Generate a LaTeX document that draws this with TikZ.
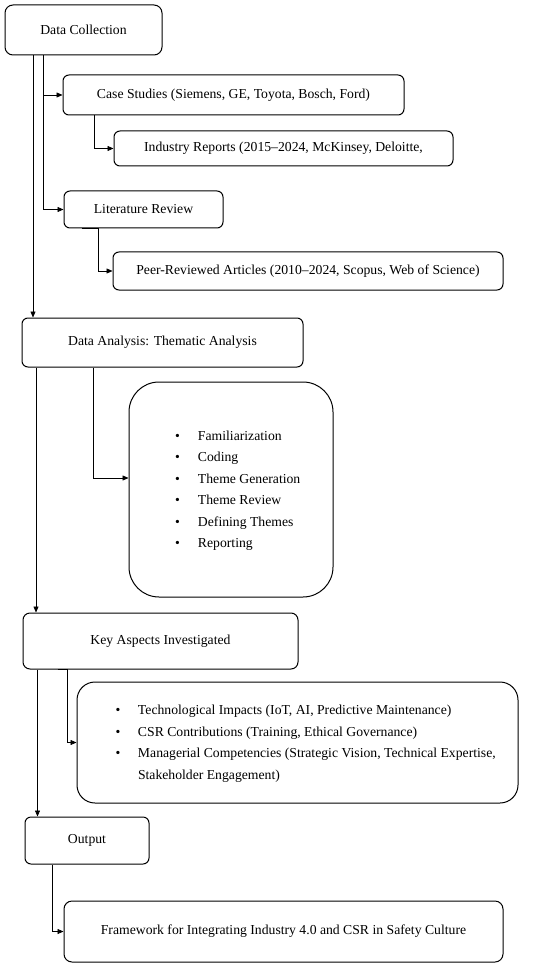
\documentclass[tikz,border=0pt]{standalone}
\usepackage{fontspec}
\setmainfont{Liberation Serif}
\usetikzlibrary{arrows.meta}
\begin{document}
\begin{tikzpicture}[x=1pt,y=-1pt,
  every node/.style={font=\fontsize{13.7}{21.5}\selectfont},
  box/.style={draw, line width=1pt, rounded corners=6pt, inner sep=0pt, align=center},
  arr/.style={-{Triangle[length=6pt,width=5pt]}, line width=0.7pt}]
\useasboundingbox (0,0) rectangle (550,965);
\fill[white] (0,0) rectangle (550,965);
% boxes
\node[box, minimum width=157pt, minimum height=50pt, rounded corners=8pt] (dc) at (83.5,30) {Data Collection};
\node[box, minimum width=341pt, minimum height=40pt] (cs) at (233.5,95) {Case Studies (Siemens, GE, Toyota, Bosch, Ford)};
\node[box, minimum width=339pt, minimum height=35pt] (ir) at (283.5,148.5) {Industry Reports (2015–2024, McKinsey, Deloitte,};
\node[box, minimum width=159pt, minimum height=37pt] (lr) at (143.5,209.5) {Literature Review};
\node[box, minimum width=390pt, minimum height=38pt] (pr) at (308,271) {Peer-Reviewed Articles (2010–2024, Scopus, Web of Science)};
\node[box, minimum width=281pt, minimum height=49pt] (da) at (162.5,342.5) {Data Analysis: Thematic Analysis};
\node[box, minimum width=204pt, minimum height=215pt, rounded corners=30pt] (tb) at (231,489.5)
 {\makebox[112pt][l]{\begin{tabular}{@{}l@{}l@{}}
  \makebox[23pt][l]{\textbullet} & Familiarization\\
  \makebox[23pt][l]{\textbullet} & Coding\\
  \makebox[23pt][l]{\textbullet} & Theme Generation\\
  \makebox[23pt][l]{\textbullet} & Theme Review\\
  \makebox[23pt][l]{\textbullet} & Defining Themes\\
  \makebox[23pt][l]{\textbullet} & Reporting
 \end{tabular}}};
\node[box, minimum width=275pt, minimum height=56pt, rounded corners=7pt] (ka) at (160.5,641) {Key Aspects Investigated};
\node[box, minimum width=441pt, minimum height=121pt, rounded corners=18pt] (tech) at (297.5,742.5)
 {\raisebox{-2pt}{\makebox[364pt][l]{\begin{tabular}{@{}l@{}l@{}}
  \makebox[22.5pt][l]{\textbullet} & Technological Impacts (IoT, AI, Predictive Maintenance)\\
  \makebox[22.5pt][l]{\textbullet} & CSR Contributions (Training, Ethical Governance)\\
  \makebox[22.5pt][l]{\textbullet} & Managerial Competencies (Strategic Vision, Technical Expertise,\\
   & Stakeholder Engagement)
 \end{tabular}}}};
\node[box, minimum width=124pt, minimum height=47pt] (out) at (87,840.5) {Output};
\node[box, minimum width=439pt, minimum height=61pt, rounded corners=8pt] (fw) at (283.5,931.5) {Framework for Integrating Industry 4.0 and CSR in Safety Culture};
% connector columns
\coordinate (v1) at (33,0);
\coordinate (v2) at (43,0);
\coordinate (v3) at (94,0);
\coordinate (v4) at (98,0);
\coordinate (v5) at (93,0);
\coordinate (v6) at (36,0);
\coordinate (v7) at (67,0);
\coordinate (v8) at (37.5,0);
\coordinate (v9) at (52,0);
% connectors
\draw[arr] (v1 |- dc.south) -- (v1 |- da.north);
\draw[arr] (v2 |- dc.south) |- (lr.west);
\draw[arr] (v2 |- cs.west) -- (cs.west);
\draw[arr] (v3 |- cs.south) |- (ir.west);
\draw[arr] ([xshift=18pt]lr.south west) -- (v4 |- lr.south) |- (pr.west);
\draw[arr] (v5 |- da.south) |- ([yshift=11.5pt]tb.west);
\draw[arr] (v6 |- da.south) -- (v6 |- ka.north);
\draw[arr] ([xshift=35pt]ka.south west) -- (v7 |- ka.south) |- (tech.west);
\draw[arr] (v8 |- ka.south) -- (v8 |- out.north);
\draw[arr] (v9 |- out.south) |- (fw.west);
\end{tikzpicture}
\end{document}
